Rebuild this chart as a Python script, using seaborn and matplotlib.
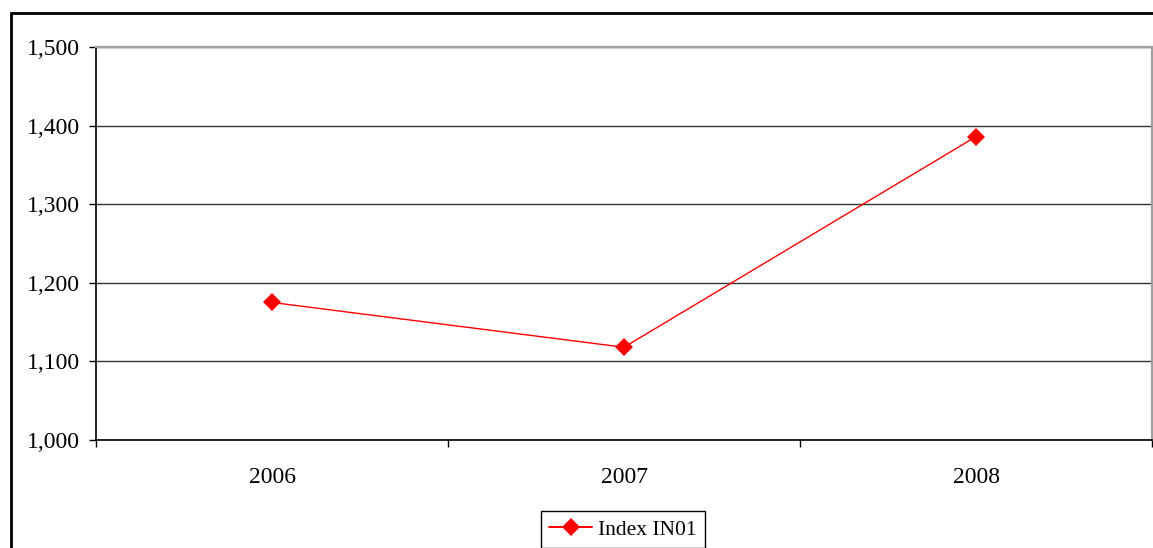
import matplotlib
matplotlib.use("Agg")
import matplotlib.pyplot as plt
import matplotlib.patches as mpatches
from matplotlib.ticker import FuncFormatter, FixedLocator
import numpy as np
import pandas as pd
import seaborn as sns

# Data
years = ["2006", "2007", "2008"]
index_in01 = [1175, 1118, 1386]
series_name = "Index IN01"
y_ticks = [1000, 1100, 1200, 1300, 1400, 1500]

sns.set_style("white")
plt.rcParams["font.family"] = ["Liberation Serif", "DejaVu Serif"]
FS = 17
LEG_FS = 15.5
plt.rcParams["font.size"] = FS
plt.rcParams["text.color"] = "black"
plt.rcParams["xtick.color"] = "black"
plt.rcParams["ytick.color"] = "black"

W, H = 1153, 548
fig = plt.figure(figsize=(W / 100, H / 100), dpi=100)
ax = fig.add_axes([96 / W, 1 - 440 / H, (1152 - 96) / W, (440 - 47) / H])

df = pd.DataFrame({"pos": np.arange(len(years)), "value": index_in01, "series": series_name})
sns.lineplot(data=df, x="pos", y="value", ax=ax, color="#ff0000", marker="D",
             markersize=8.8, markeredgewidth=0, linewidth=1.0, label=series_name)

ax.set_xlim(-0.5, len(years) - 0.5)
ax.set_ylim(y_ticks[0], y_ticks[-1])
ax.set_xlabel("")
ax.set_ylabel("")

# y axis
ax.yaxis.set_major_locator(FixedLocator(y_ticks))
ax.yaxis.set_major_formatter(FuncFormatter(lambda v, p: f"{v:,.0f}"))
ax.tick_params(axis="y", which="major", direction="out", length=5, width=1,
               color="black", labelcolor="black", pad=6.5, labelsize=FS, left=True)

# x axis: labels centred in bands, tick marks on band boundaries
ax.set_xticks(np.arange(len(years)))
ax.set_xticklabels(years)
ax.set_xticks(np.arange(len(years) + 1) - 0.5, minor=True)
ax.tick_params(axis="x", which="major", length=0, pad=19.5, labelsize=FS,
               labelcolor="black")
ax.tick_params(axis="x", which="minor", direction="out", length=5, width=1,
               color="black", bottom=True)

# gridlines and plot-area border
ax.set_axisbelow(True)
ax.yaxis.grid(True, color="#333333", linewidth=1.0)
ax.xaxis.grid(False)
for side in ("left", "bottom"):
    ax.spines[side].set_color("black")
    ax.spines[side].set_linewidth(1.2)
    ax.spines[side].set_visible(True)
for side in ("top", "right"):
    ax.spines[side].set_color("#a0a0a0")
    ax.spines[side].set_linewidth(1.6)
    ax.spines[side].set_visible(True)

# legend below the plot
leg = ax.legend(loc="upper center", bbox_to_anchor=(623 / W, 1 - 511 / H),
                bbox_transform=fig.transFigure, frameon=True, fancybox=False,
                edgecolor="black", framealpha=1, fontsize=LEG_FS,
                handlelength=2.0, handletextpad=0.28, borderpad=0.4,
                borderaxespad=0)
leg.get_frame().set_linewidth(1.0)
for t in leg.get_texts():
    t.set_color("black")
for h in leg.legend_handles:
    h.set_linewidth(1.4)

# outer chart frame
frame = mpatches.Rectangle((11 / W, -0.2), 1.2, (1 - 13 / H) + 0.2,
                           transform=fig.transFigure, fill=False,
                           edgecolor="black", linewidth=2.0, clip_on=False)
fig.add_artist(frame)

fig.savefig("out.png", dpi=100, facecolor="white")
